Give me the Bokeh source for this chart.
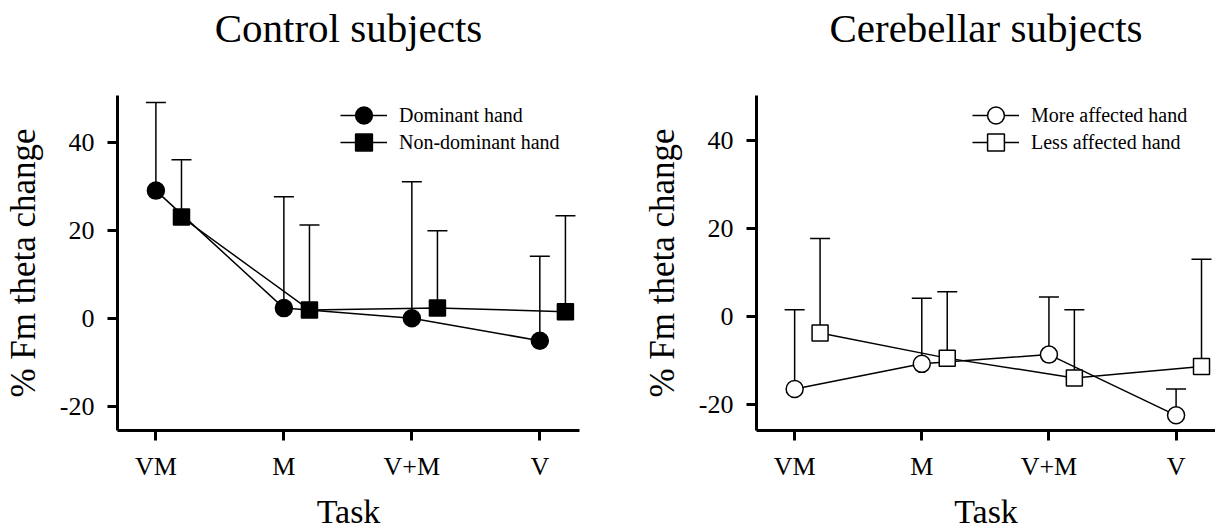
import numpy as np
from bokeh.plotting import figure
from bokeh.layouts import row
from bokeh.models import (Range1d, FixedTicker, Whisker, TeeHead, ColumnDataSource,
                          Legend, LegendItem, Title)
from bokeh.embed import file_html
from bokeh.resources import INLINE

# ---------------- data ----------------
tasks = ["VM", "M", "V+M", "V"]
y_ticks = [-20, 0, 20, 40]
y_tick_labels = ["-20", "0", "20", "40"]

ctrl_dom_mean = [29.0, 2.3, 0.0, -5.1]
ctrl_dom_upper = [49.0, 27.6, 31.0, 14.1]
ctrl_nondom_mean = [23.0, 1.9, 2.3, 1.5]
ctrl_nondom_upper = [36.0, 21.2, 19.9, 23.3]

cereb_more_mean = [-16.4, -10.7, -8.6, -22.4]
cereb_more_upper = [1.6, 4.2, 4.5, -16.4]
cereb_less_mean = [-3.7, -9.4, -13.9, -11.3]
cereb_less_upper = [17.8, 5.7, 1.6, 13.1]

FONT = "Liberation Serif"
DODGE = 0.2


def panel(title, s1, s2, labels, fill, width, border_left, border_right,
          x_end, y_start, y_end, legend_x):
    p = figure(width=width, height=532, output_backend="svg",
               toolbar_location=None, x_range=Range1d(-0.3, x_end),
               y_range=Range1d(y_start, y_end),
               min_border_left=border_left, min_border_right=border_right,
               min_border_top=95, min_border_bottom=102)
    p.outline_line_color = None
    p.xgrid.visible = False
    p.ygrid.visible = False
    p.background_fill_color = "white"
    p.border_fill_color = "white"

    # invisible spacer between plot frame and title
    spacer = Title(text=" ", text_font_size="1px", standoff=42, align="center")
    p.add_layout(spacer, "above")
    t = Title(text=title, align="center", text_font=FONT, text_font_size="41px",
              text_font_style="normal", text_color="black", standoff=0)
    p.add_layout(t, "above")

    for ax in (p.xaxis[0], p.yaxis[0]):
        ax.axis_line_width = 3
        ax.axis_line_color = "black"
        ax.major_tick_line_width = 3
        ax.major_tick_line_color = "black"
        ax.major_tick_out = 10
        ax.major_tick_in = 0
        ax.minor_tick_out = 0
        ax.minor_tick_in = 0
        ax.major_label_text_font = FONT
        ax.major_label_text_font_size = "26px"
        ax.major_label_text_color = "black"
        ax.axis_label_text_font = FONT
        ax.axis_label_text_font_style = "normal"
        ax.axis_label_text_color = "black"

    p.xaxis.ticker = FixedTicker(ticks=list(range(len(tasks))))
    p.xaxis.major_label_overrides = {i: t for i, t in enumerate(tasks)}
    p.xaxis.axis_label = "Task"
    p.xaxis.axis_label_text_font_size = "34px"
    p.xaxis.major_label_standoff = 11
    p.xaxis.axis_label_standoff = 9

    p.yaxis.ticker = FixedTicker(ticks=y_ticks)
    p.yaxis.major_label_overrides = {t: l for t, l in zip(y_ticks, y_tick_labels)}
    p.yaxis.axis_label = "% Fm theta change"
    p.yaxis.axis_label_text_font_size = "35px"
    p.yaxis.major_label_standoff = 13
    p.yaxis.axis_label_standoff = 14

    x = np.arange(len(tasks), dtype=float)
    for (mean, upper), dx, marker, size, lab, vy in zip(
            (s1, s2), (0.0, DODGE), ("circle", "square"), (17, 16), labels, (294, 267)):
        src = ColumnDataSource(dict(x=x + dx, mean=mean, upper=upper))
        p.add_layout(Whisker(source=src, base="x", upper="upper", lower="mean",
                             dimension="height", line_width=1.5, line_color="black",
                             upper_head=TeeHead(size=20, line_width=1.5, line_color="black"),
                             lower_head=None))
        lr = p.line("x", "mean", source=src, line_width=1.5, line_color="black")
        sr = p.scatter("x", "mean", source=src, marker=marker, size=size,
                       fill_color=fill, line_color="black", line_width=1.5)
        leg = Legend(items=[LegendItem(label=lab, renderers=[lr, sr])],
                     location=(legend_x, vy), glyph_width=47, glyph_height=42,
                     label_height=42, spacing=0, padding=0, margin=0, label_standoff=12,
                     label_text_font=FONT, label_text_font_size="20px",
                     label_text_color="black", border_line_color=None,
                     background_fill_alpha=0)
        p.add_layout(leg)
    return p


left = panel("Control subjects",
             (ctrl_dom_mean, ctrl_dom_upper), (ctrl_nondom_mean, ctrl_nondom_upper),
             ["Dominant hand", "Non-dominant hand"], "black",
             608, 115, 29, 3.31, -25.5, 50.6, 223)
right = panel("Cerebellar subjects",
              (cereb_more_mean, cereb_more_upper), (cereb_less_mean, cereb_less_upper),
              ["More affected hand", "Less affected hand"], "white",
              607, 148, 0, 3.31, -25.85, 50.3, 216)

layout = row(left, right)
open("out.html", "w").write(file_html(layout, INLINE))
